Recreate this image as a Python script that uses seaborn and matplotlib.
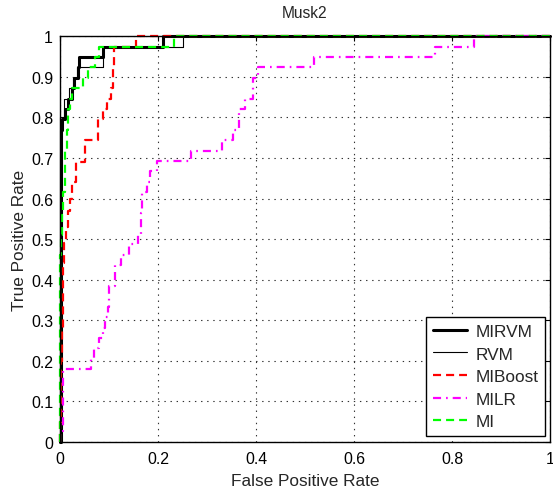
import matplotlib
matplotlib.use("Agg")
import matplotlib.pyplot as plt
import pandas as pd
import seaborn as sns

# ---- chart text -------------------------------------------------------
title = "Musk2"
x_label = "False Positive Rate"
y_label = "True Positive Rate"
x_ticks = [0, 0.2, 0.4, 0.6, 0.8, 1]
x_tick_labels = ["0", "0.2", "0.4", "0.6", "0.8", "1"]
y_ticks = [0, 0.1, 0.2, 0.3, 0.4, 0.5, 0.6, 0.7, 0.8, 0.9, 1]
y_tick_labels = ["0", "0.1", "0.2", "0.3", "0.4", "0.5", "0.6", "0.7", "0.8", "0.9", "1"]

methods = ["MIRVM", "RVM", "MIBoost", "MILR", "MI"]

# ---- ROC vertices (steps-post: move right to fpr, then up to tpr) -----
mirvm_fpr = [0.0, 0.003, 0.004, 0.010, 0.016, 0.025, 0.029, 0.036, 0.039, 0.088, 0.210, 1.0]
mirvm_tpr = [0.0, 0.770, 0.795, 0.821, 0.846, 0.872, 0.897, 0.923, 0.949, 0.974, 1.000, 1.0]

rvm_fpr = [0.0, 0.0, 0.008, 0.018, 0.026, 0.034, 0.088, 0.250, 1.0]
rvm_tpr = [0.0, 0.800, 0.846, 0.872, 0.897, 0.923, 0.974, 1.000, 1.0]

miboost_fpr = [0.0, 0.0, 0.003, 0.005, 0.007, 0.009, 0.013, 0.016, 0.020, 0.025, 0.032,
               0.050, 0.077, 0.088, 0.096, 0.104, 0.108, 0.111, 0.155, 1.0]
miboost_tpr = [0.0, 0.050, 0.200, 0.280, 0.440, 0.490, 0.530, 0.570, 0.600, 0.640, 0.690,
               0.745, 0.795, 0.821, 0.846, 0.872, 0.923, 0.974, 1.000, 1.0]

milr_fpr = [0.0, 0.0, 0.007, 0.063, 0.070, 0.080, 0.088, 0.092, 0.097, 0.099, 0.112, 0.125,
            0.140, 0.160, 0.165, 0.168, 0.177, 0.184, 0.198, 0.268, 0.330, 0.353, 0.365,
            0.378, 0.393, 0.404, 0.518, 0.765, 0.845, 1.0]
milr_tpr = [0.0, 0.026, 0.179, 0.205, 0.231, 0.256, 0.282, 0.308, 0.333, 0.385, 0.436, 0.462,
            0.487, 0.513, 0.564, 0.615, 0.641, 0.667, 0.692, 0.718, 0.744, 0.769, 0.821,
            0.846, 0.897, 0.923, 0.949, 0.974, 1.000, 1.0]

mi_fpr = [0.0, 0.0, 0.002, 0.004, 0.007, 0.010, 0.014, 0.017, 0.021, 0.025, 0.046, 0.058,
          0.071, 0.079, 0.232, 1.0]
mi_tpr = [0.0, 0.460, 0.510, 0.560, 0.615, 0.720, 0.770, 0.820, 0.846, 0.872, 0.897, 0.923,
          0.949, 0.974, 1.000, 1.0]

curves = {
    "MIRVM": (mirvm_fpr, mirvm_tpr),
    "RVM": (rvm_fpr, rvm_tpr),
    "MIBoost": (miboost_fpr, miboost_tpr),
    "MILR": (milr_fpr, milr_tpr),
    "MI": (mi_fpr, mi_tpr),
}

styles = {
    "MIRVM": dict(color="#000000", lw=2.2, ls="-"),
    "RVM": dict(color="#000000", lw=0.8, ls="-"),
    "MIBoost": dict(color="#ff0000", lw=1.6, ls=(0, (5.8, 3.6))),
    "MILR": dict(color="#ff00ff", lw=1.6, ls=(0, (5.8, 3.6, 1.2, 3.6))),
    "MI": dict(color="#00ff00", lw=1.6, ls=(0, (5.8, 3.6))),
}

sns.set_theme(style="white")
plt.rcParams["font.family"] = ["Liberation Sans", "DejaVu Sans"]
plt.rcParams["lines.scale_dashes"] = False
plt.rcParams["axes.linewidth"] = 1.0

fig, ax = plt.subplots(figsize=(5.53, 4.89), dpi=100)
fig.subplots_adjust(left=0.1085, right=0.9946, bottom=0.094, top=0.924)

for name in methods:
    fpr, tpr = curves[name]
    frame = pd.DataFrame({"fpr": fpr, "tpr": tpr})
    st = styles[name]
    sns.lineplot(data=frame, x="fpr", y="tpr", ax=ax, estimator=None, sort=False,
                 color=st["color"], linewidth=st["lw"], linestyle=st["ls"],
                 drawstyle="steps-post", label=name, clip_on=False)

ax.set_xlim(0, 1)
ax.set_ylim(0, 1)
ax.set_xticks(x_ticks)
ax.set_xticklabels(x_tick_labels)
ax.set_yticks(y_ticks)
ax.set_yticklabels(y_tick_labels)

for sp in ax.spines.values():
    sp.set_color("black")
    sp.set_linewidth(1.0)

ax.grid(True, color="#333333", linestyle=(0, (1.0, 3.4)), linewidth=0.8)
ax.set_axisbelow(True)
ax.tick_params(direction="in", length=3.5, width=0.8, top=True, right=True,
               labelsize=11.4, colors="black", pad=5)
ax.tick_params(axis="x", pad=6.5)

ax.set_xlabel(x_label, fontsize=12.4, labelpad=5)
ax.set_ylabel(y_label, fontsize=12.4, labelpad=2.5)
ax.set_title(title, fontsize=11.2, pad=14)

leg = ax.legend(loc="lower right", bbox_to_anchor=(0.99, 0.015), borderaxespad=0,
                frameon=True, fancybox=False, edgecolor="black", framealpha=1,
                fontsize=12.4, handlelength=2.0, handletextpad=0.5,
                labelspacing=0.44, borderpad=0.38)
leg.get_frame().set_linewidth(1.0)

fig.savefig("out.png", dpi=100)
